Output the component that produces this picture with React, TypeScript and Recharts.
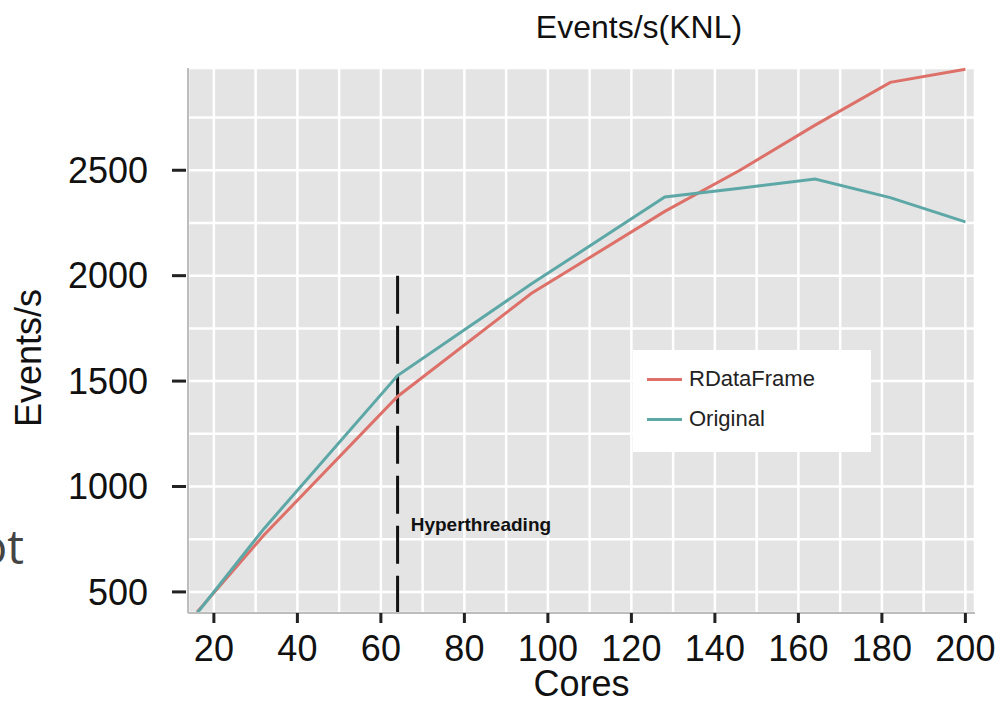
import React from "react"
import { CartesianGrid, Legend, Line, LineChart, ReferenceDot, ReferenceLine, XAxis, YAxis } from "recharts"

// cores on the x axis
const cores = [16, 32, 64, 96, 128, 146, 164, 182, 200]
const rdataframe = [405, 770, 1427, 1915, 2305, 2500, 2714, 2917, 2979]
const original = [400, 800, 1526, 1960, 2373, 2415, 2458, 2370, 2255]
const seriesNames = ["RDataFrame", "Original"]

const xTicks = [20, 30, 40, 50, 60, 70, 80, 90, 100, 110, 120, 130, 140, 150, 160, 170, 180, 190, 200]
const yTicks = [500, 750, 1000, 1250, 1500, 1750, 2000, 2250, 2500, 2750]

const FONT = "'Liberation Sans', Arial, Helvetica, sans-serif"
const RED = "#DD7169"
const TEAL = "#5DA8A7"

const data = cores.map((c, i) => ({ cores: c, rdf: rdataframe[i], orig: original[i] }))

function XTick(props: any) {
  const { x, y, payload } = props
  const v = payload.value
  if (v % 20 !== 0) return <g />
  return (
    <g>
      <rect x={x - 1.5} y={y} width={3} height={10} fill="#222" />
      <text x={x} y={y + 22} dy="0.71em" textAnchor="middle" fontSize={36} fontFamily={FONT} fill="#111">
        {v}
      </text>
    </g>
  )
}

function YTick(props: any) {
  const { x, y, payload } = props
  const v = payload.value
  if (v % 500 !== 0) return <g />
  return (
    <g>
      <rect x={x - 16} y={y - 1.5} width={14} height={3} fill="#222" />
      <text x={x - 40} y={y} dy="0.355em" textAnchor="end" fontSize={36} fontFamily={FONT} fill="#111">
        {v}
      </text>
    </g>
  )
}

function LegendBox({ payload }: any) {
  const items = [...(payload || [])].sort(
    (a: any, b: any) => seriesNames.indexOf(a.value) - seriesNames.indexOf(b.value)
  )
  return (
    <div style={{ background: "#fff", width: 238, height: 102, boxSizing: "border-box", paddingTop: 9 }}>
      {items.map((p: any) => (
        <div key={p.value} style={{ display: "flex", alignItems: "center", height: 40, paddingLeft: 14 }}>
          <div style={{ width: 35, height: 3, background: p.color, marginRight: 7 }} />
          <span style={{ fontFamily: FONT, fontSize: 22, color: "#222" }}>{p.value}</span>
        </div>
      ))}
    </div>
  )
}

export default function App() {
  return (
    <div style={{ position: "absolute", left: 0, top: 0, width: 1000, height: 702, background: "#fff", overflow: "hidden" }}>
      <div
        style={{
          position: "absolute",
          left: 639,
          top: 11,
          transform: "translateX(-50%)",
          fontFamily: FONT,
          fontSize: 32,
          lineHeight: "32px",
          color: "#111",
          whiteSpace: "nowrap",
        }}
      >
        Events/s(KNL)
      </div>
      <div
        style={{
          position: "absolute",
          left: -21,
          top: 523,
          fontFamily: "'Open Sans', sans-serif",
          fontSize: 47,
          lineHeight: "47px",
          color: "#444",
        }}
      >
        ot
      </div>
      <div style={{ position: "absolute", left: 0, top: 0 }}>
        <LineChart width={1000} height={702} data={data} margin={{ top: 68, right: 25, left: 0, bottom: 0 }}>
          <CartesianGrid stroke="#fff" strokeWidth={2.5} fill="#E4E4E4" />
          <XAxis
            dataKey="cores"
            type="number"
            domain={[13.8, 202.3]}
            ticks={xTicks}
            interval={0}
            height={89}
            tickSize={0}
            tickMargin={0}
            tick={<XTick />}
            axisLine={{ stroke: "#bdbdbd", strokeWidth: 2 }}
            label={{ value: "Cores", position: "insideBottom", offset: 6, fontSize: 36, fontFamily: FONT, fill: "#111" }}
          />
          <YAxis
            type="number"
            domain={[400, 2985]}
            ticks={yTicks}
            interval={0}
            width={188}
            tickSize={0}
            tickMargin={0}
            tick={<YTick />}
            axisLine={{ stroke: "#bdbdbd", strokeWidth: 2 }}
            label={{
              content: () => (
                <text
                  x={28}
                  y={358}
                  transform="rotate(-90, 28, 358)"
                  textAnchor="middle"
                  dy="0.355em"
                  fontSize={36}
                  fontFamily={FONT}
                  fill="#111"
                >
                  Events/s
                </text>
              ),
            }}
          />
          <ReferenceLine
            segment={[
              { x: 64, y: 2000 },
              { x: 64, y: 400 },
            ]}
            stroke="#111"
            strokeWidth={3}
            strokeDasharray="38 12"
          />
          <ReferenceDot
            x={64}
            y={822}
            r={0.1}
            fill="none"
            stroke="none"
            label={{ value: "Hyperthreading", position: "right", offset: 13, fontSize: 19, fontWeight: 700, fontFamily: FONT, fill: "#111" }}
          />
          <Line type="linear" dataKey="rdf" name="RDataFrame" stroke={RED} strokeWidth={3} dot={false} isAnimationActive={false} />
          <Line type="linear" dataKey="orig" name="Original" stroke={TEAL} strokeWidth={3} dot={false} isAnimationActive={false} />
          <Legend
            layout="vertical"
            align="center"
            verticalAlign="middle"
            content={<LegendBox />}
            wrapperStyle={{ position: "absolute", left: 633, top: 350, width: 238, height: 102 }}
          />
        </LineChart>
      </div>
    </div>
  )
}
